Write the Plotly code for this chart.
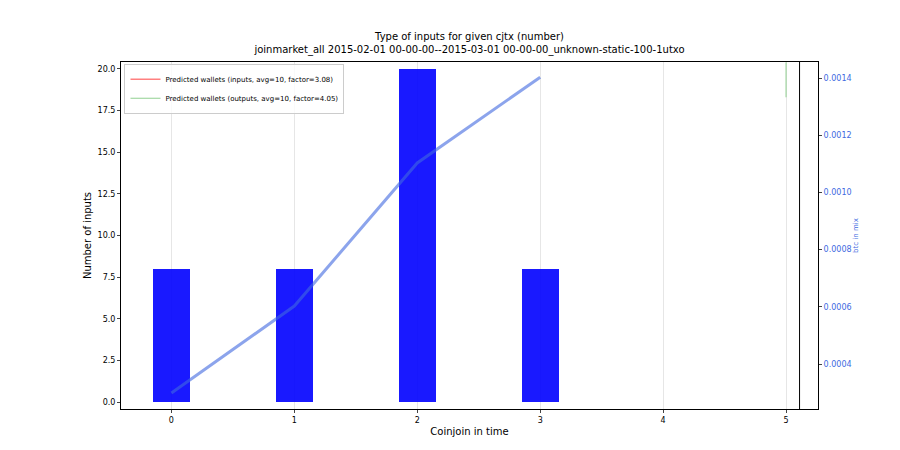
import plotly.graph_objects as go

# Data
coinjoins = [0, 1, 2, 3]
num_inputs = [8, 8, 20, 8]
btc_in_mix = [0.000299, 0.000603, 0.001103, 0.001403]
tick_vals = [0, 1, 2, 3, 4, 5]
green_x = [5, 5]
green_y = [18.3, 20.4]
vline_x = [5.11, 5.11]
vline_y = [-0.42, 20.42]

fig = go.Figure()

fig.add_trace(go.Bar(x=coinjoins, y=num_inputs, width=0.3,
                     marker=dict(color='rgba(0,0,255,0.9)', line=dict(width=0)),
                     showlegend=False))
fig.add_trace(go.Scatter(x=[None], y=[None], mode='lines',
                         line=dict(color='#ff8080', width=1.5),
                         name='Predicted wallets (inputs, avg=10, factor=3.08)'))
fig.add_trace(go.Scatter(x=green_x, y=green_y, mode='lines',
                         line=dict(color='#90d090', width=1),
                         name='Predicted wallets (outputs, avg=10, factor=4.05)'))
fig.add_trace(go.Scatter(x=vline_x, y=vline_y, mode='lines',
                         line=dict(color='black', width=1), showlegend=False))
fig.add_trace(go.Scatter(x=coinjoins, y=btc_in_mix, mode='lines', yaxis='y2',
                         line=dict(color='royalblue', width=3), opacity=0.6,
                         showlegend=False))

fig.update_layout(
    width=900, height=450,
    plot_bgcolor='white', paper_bgcolor='white',
    font=dict(family='DejaVu Sans', size=8, color='black'),
    margin=dict(l=113, r=90, t=54, b=49, autoexpand=False),
    title=dict(text='Type of inputs for given cjtx (number)<br>joinmarket_all 2015-02-01 00-00-00--2015-03-01 00-00-00_unknown-static-100-1utxo',
               x=0.5, xref='paper', y=0.93, yanchor='top', font=dict(size=10)),
    xaxis=dict(range=[-0.41, 5.26], tickvals=tick_vals, showgrid=True, automargin=False,
               gridcolor='#e6e6e6', zeroline=False, showline=True, linecolor='black',
               mirror=True, ticks='outside', ticklen=3,
               title=dict(text='Coinjoin in time', standoff=4)),
    yaxis=dict(range=[-0.42, 20.42], tickvals=[0, 2.5, 5, 7.5, 10, 12.5, 15, 17.5, 20],
               tickformat='.1f', showgrid=False, zeroline=False, showline=True,
               automargin=False, linecolor='black', ticks='outside', ticklen=3,
               title=dict(text='Number of inputs', standoff=4)),
    yaxis2=dict(overlaying='y', side='right', range=[0.000243, 0.001456],
                tickvals=[0.0004, 0.0006, 0.0008, 0.001, 0.0012, 0.0014],
                tickformat='.4f', showgrid=False, zeroline=False, showline=True,
                automargin=False, linecolor='black', ticks='outside', ticklen=3,
                tickfont=dict(color='royalblue'),
                title=dict(text='btc in mix', font=dict(color='royalblue', size=7), standoff=2)),
    legend=dict(x=0.005, y=0.995, xanchor='left', yanchor='top',
                bgcolor='rgba(255,255,255,0.8)', bordercolor='#cccccc', borderwidth=1,
                font=dict(size=7), itemwidth=30, tracegroupgap=0),
    bargap=0,
)

fig.write_html("out.html")
